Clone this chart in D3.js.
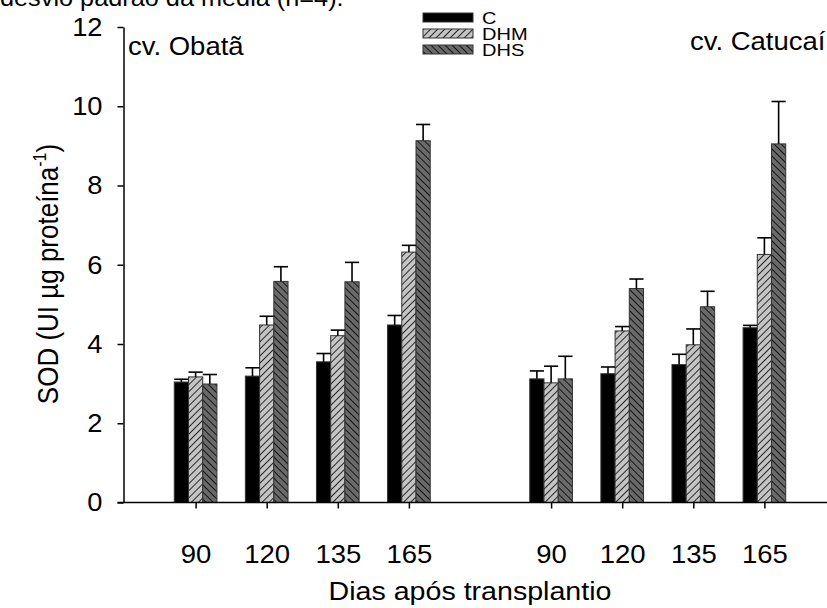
<!DOCTYPE html>
<html>
<head>
<meta charset="utf-8">
<script src="https://cdn.jsdelivr.net/npm/d3@7"></script>
<style>
  body { margin: 0; background: #fff; }
  svg { font-family: "Liberation Sans", Arial, sans-serif; }
</style>
</head>
<body>
<div id="container"></div>
<script>
/* CONSTANTS AND GLOBALS */
const width = 827;
const height = 608;
const margin = {top: 27, bottom: 105, left: 123.5, right: 0};
const SX = 1.1; // the scanned figure is a little wider than tall

/* DATA */
const days = ["90", "120", "135", "165"];
const treatments = ["C", "DHM", "DHS"];
const cultivars = ["cv. Obatã", "cv. Catucaí"];

const obataC   = [3.04, 3.19, 3.55, 4.48];
const obataDHM = [3.17, 4.48, 4.21, 6.32];
const obataDHS = [2.99, 5.58, 5.57, 9.13];
const obataErrC   = [0.07, 0.21, 0.21, 0.24];
const obataErrDHM = [0.12, 0.22, 0.14, 0.17];
const obataErrDHS = [0.24, 0.37, 0.49, 0.41];

const catuaiC   = [3.12, 3.25, 3.48, 4.41];
const catuaiDHM = [3.02, 4.33, 3.98, 6.26];
const catuaiDHS = [3.12, 5.40, 4.94, 9.05];
const catuaiErrC   = [0.20, 0.17, 0.26, 0.06];
const catuaiErrDHM = [0.42, 0.11, 0.40, 0.42];
const catuaiErrDHS = [0.57, 0.24, 0.39, 1.07];

const yTicks = [0, 2, 4, 6, 8, 10, 12];

// one row per bar
const series = [
  {cv: 0, t: "C", vals: obataC, errs: obataErrC},
  {cv: 0, t: "DHM", vals: obataDHM, errs: obataErrDHM},
  {cv: 0, t: "DHS", vals: obataDHS, errs: obataErrDHS},
  {cv: 1, t: "C", vals: catuaiC, errs: catuaiErrC},
  {cv: 1, t: "DHM", vals: catuaiDHM, errs: catuaiErrDHM},
  {cv: 1, t: "DHS", vals: catuaiDHS, errs: catuaiErrDHS}
];
const data = series.flatMap(s => s.vals.map((v, i) => ({
  cv: s.cv, t: s.t, day: days[i], pos: s.cv * 5 + i + 1, value: v, err: s.errs[i]
})));

/* SCALES */
const xScale = d3.scaleLinear()
  .domain([0, 10])
  .range([margin.left + 1, 835.5]);

const yScale = d3.scaleLinear()
  .domain([0, 12])
  .range([height - margin.bottom - 0.5, margin.top]);

const barW = xScale(0.2) - xScale(0);
const offset = d3.scaleOrdinal().domain(treatments).range([-1, 0, 1]);

const svg = d3.select("#container")
  .append("svg")
  .attr("width", width)
  .attr("height", height);

// hatch patterns
const defs = svg.append("defs");
function hatch(id, bg, angle) {
  const p = defs.append("pattern")
    .attr("id", id)
    .attr("patternUnits", "userSpaceOnUse")
    .attr("width", 5).attr("height", 5)
    .attr("patternTransform", `rotate(${angle})`);
  p.append("rect").attr("width", 5).attr("height", 5).attr("fill", bg);
  p.append("line").attr("x1", 0).attr("y1", 0).attr("x2", 0).attr("y2", 5)
    .attr("stroke", "#000").attr("stroke-width", 1.6);
}
hatch("hDHM", "#c4c4c4", 45);
hatch("hDHS", "#6a6a6a", -45);
const fill = {C: "#000", DHM: "url(#hDHM)", DHS: "url(#hDHS)"};

// horizontal text helper, stretched like the scan
function label(x, y, size, str, anchor) {
  return svg.append("text")
    .attr("transform", `translate(${x},${y}) scale(${SX},1)`)
    .attr("text-anchor", anchor || "start")
    .attr("font-size", size)
    .text(str);
}

// top caption, cut by the page edge
label(0, 6, 23, "desvio padrão da média (n=4).");

//bars
svg.selectAll("rect.bar")
  .data(data)
  .join("rect")
  .attr("class", "bar")
  .attr("x", d => xScale(d.pos) + offset(d.t) * barW - barW / 2)
  .attr("y", d => yScale(d.value))
  .attr("width", barW)
  .attr("height", d => yScale(0) - yScale(d.value))
  .attr("fill", d => fill[d.t])
  .attr("stroke", "#333")
  .attr("stroke-width", 1);

// error bars (upper only)
const eb = svg.selectAll("g.err")
  .data(data)
  .join("g")
  .attr("class", "err")
  .attr("stroke", "#000")
  .attr("stroke-width", 1.6);
eb.append("line")
  .attr("x1", d => xScale(d.pos) + offset(d.t) * barW)
  .attr("x2", d => xScale(d.pos) + offset(d.t) * barW)
  .attr("y1", d => yScale(d.value))
  .attr("y2", d => yScale(d.value + d.err));
eb.append("line")
  .attr("x1", d => xScale(d.pos) + offset(d.t) * barW - barW / 2)
  .attr("x2", d => xScale(d.pos) + offset(d.t) * barW + barW / 2)
  .attr("y1", d => yScale(d.value + d.err))
  .attr("y2", d => yScale(d.value + d.err));

/* AXES */
const tickPos = d3.range(2).flatMap(c => days.map((d, i) => c * 5 + i + 1));
const xAxisGroup = svg.append("g")
  .attr("transform", `translate(0, ${yScale(0)})`)
  .call(d3.axisBottom(xScale)
    .tickValues(tickPos)
    .tickFormat(p => days[(p - 1) % 5])
    .tickSize(6));
xAxisGroup.select(".domain").remove();
xAxisGroup.append("line")
  .attr("x1", margin.left - 6).attr("x2", width)
  .attr("stroke", "#000").attr("stroke-width", 1.5);
xAxisGroup.selectAll(".tick line").attr("stroke-width", 1.5);
xAxisGroup.selectAll("text")
  .attr("y", 0).attr("dy", null)
  .attr("transform", `translate(0, 60) scale(${SX},1)`)
  .attr("font-size", 25).attr("fill", "#000")
  .attr("font-family", "Liberation Sans, Arial, sans-serif");

const yAxisGroup = svg.append("g")
  .attr("transform", `translate(${margin.left}, 0)`)
  .call(d3.axisLeft(yScale)
    .tickValues(yTicks)
    .tickSize(6)
    .tickSizeOuter(0));
yAxisGroup.select(".domain").attr("stroke-width", 1.5);
yAxisGroup.selectAll(".tick line").attr("stroke-width", 1.5);
yAxisGroup.selectAll("text")
  .attr("x", 0)
  .attr("transform", "translate(-21, 0) scale(1.05,1)")
  .attr("font-size", 26).attr("fill", "#000")
  .attr("font-family", "Liberation Sans, Arial, sans-serif");

// axis titles
label(470, 600, 26, "Dias após transplantio", "middle");

const yLab = svg.append("text")
  .attr("transform", "translate(58, 274) rotate(-90) scale(1,1.12)")
  .attr("text-anchor", "middle")
  .attr("font-size", 26);
yLab.append("tspan").text("SOD (UI µg proteína");
yLab.append("tspan").attr("font-size", 16).attr("dy", -11).text("-1");
yLab.append("tspan").attr("dy", 11).text(")");

// cultivar labels
label(128, 55, 25, cultivars[0]);
label(690, 50, 25, cultivars[1]);

// legend
const legend = svg.selectAll("g.leg")
  .data(treatments)
  .join("g")
  .attr("class", "leg")
  .attr("transform", (d, i) => `translate(423, ${13 + i * 16})`);
legend.append("rect")
  .attr("width", 50).attr("height", 9)
  .attr("fill", d => fill[d])
  .attr("stroke", "#333").attr("stroke-width", 1);
legend.append("text")
  .attr("transform", "translate(59, 11) scale(1.25,1)")
  .attr("font-size", 16)
  .text(d => d);
</script>
</body>
</html>
